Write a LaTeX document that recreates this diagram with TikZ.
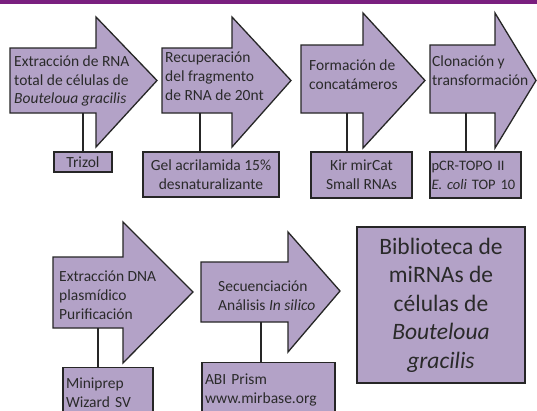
\documentclass[tikz,border=0pt]{standalone}
\usepackage{fontspec}
\setmainfont{Carlito}
\definecolor{lila}{HTML}{B3A2C7}
\definecolor{edge}{HTML}{262626}
\definecolor{topbar}{HTML}{7A1F7F}
\definecolor{txt}{HTML}{2A2A2A}
\tikzset{
  arrowshape/.style={fill=lila, draw=edge, line width=1.3pt, line join=miter},
  box/.style={fill=lila, draw=edge, line width=1.3pt, inner sep=3pt, font=\fontsize{15.5}{18.8}\selectfont, text=txt},
  lbl/.style={inner sep=0pt, align=left, font=\fontsize{15.5}{18.8}\selectfont, text=txt, anchor=west},
  stem/.style={draw=edge, line width=1.3pt},
}
\begin{document}
\begin{tikzpicture}[x=1pt,y=-1pt]
\useasboundingbox (0,0) rectangle (537,410);
\clip (0,0) rectangle (537,410);
\fill[white] (0,0) rectangle (537,410);
\fill[topbar] (0,0) rectangle (537,3.5);
% arrows row 1
\draw[arrowshape] (10,48) -- (96,48) -- (96,17) -- (157,80.5) -- (96,147) -- (96,113) -- (10,113) -- cycle;
\draw[arrowshape] (162,48) -- (232,48) -- (232,17) -- (291,80.5) -- (232,147) -- (232,113) -- (162,113) -- cycle;
\draw[arrowshape] (301,45) -- (363,45) -- (363,13) -- (425,80.5) -- (363,148) -- (363,113) -- (301,113) -- cycle;
\draw[arrowshape] (430,45) -- (495,45) -- (495,13) -- (536,80.5) -- (495,148) -- (495,113) -- (430,113) -- cycle;
% arrows row 2
\draw[arrowshape] (53,257) -- (123,257) -- (123,222) -- (193,292) -- (123,363) -- (123,328) -- (53,328) -- cycle;
\draw[arrowshape] (201,262) -- (288,262) -- (288,232) -- (340,291) -- (288,352) -- (288,322) -- (201,322) -- cycle;
% arrow labels
\node[lbl] (t1) at (14,81) {Extracción de RNA\\total de células de\\\textit{Bouteloua gracilis}};
\node[lbl] (t2) at (165,76) {Recuperación\\del fragmento\\de RNA de 20nt};
\node[lbl] (t3) at (309,75) {Formación de\\concatámeros};
\node[lbl] (t4) at (432,71) {Clonación y\\transformación};
\node[lbl] (t5) at (59,295) {Extracción DNA\\plasmídico\\Purificación};
\node[lbl] (t6) at (218,296) {Secuenciación\\Análisis \textit{In silico}};
% stem tops
\coordinate (s1) at (83,113);
\coordinate (s2) at (200,113);
\coordinate (s3) at (347,113);
\coordinate (s4) at (466,113);
\coordinate (s5) at (98,328);
\coordinate (s6) at (261,322);
% boxes
\node[box, minimum width=58pt, minimum height=20pt] (b1) at (83,162) {Trizol};
\node[box, minimum width=136pt, minimum height=45pt, align=center] (b2) at (211,174.5) {Gel acrilamida 15\%\\desnaturalizante};
\node[box, minimum width=101pt, minimum height=46pt, align=center] (b3) at (361.5,175) {Kir mirCat\\Small RNAs};
\node[box, minimum width=91pt, minimum height=46pt, text width=88pt, inner sep=1.5pt, align=left, font=\fontsize{14.5}{18.8}\selectfont] (b4) at (475.5,175) {pCR-TOPO II\\\textit{E. coli} TOP 10};
\node[box, minimum width=90pt, minimum height=50pt, text width=84pt, align=left, anchor=north] (b5) at (108,367) {Miniprep\\Wizard SV};
\node[box, minimum width=133pt, minimum height=54pt, text width=127pt, align=left, anchor=north] (b6) at (268.5,362) {ABI Prism\\www.mirbase.org};
\node[box, minimum width=168pt, minimum height=156pt, align=center, font=\fontsize{23.5}{28.5}\selectfont] (b7) at (441,305) {Biblioteca de\\miRNAs de\\células de\\\textit{Bouteloua}\\\textit{gracilis}};
% stems
\draw[stem] (s1) -- (s1 |- b1.north);
\draw[stem] (s2) -- (s2 |- b2.north);
\draw[stem] (s3) -- (s3 |- b3.north);
\draw[stem] (s4) -- (s4 |- b4.north);
\draw[stem] (s5) -- (s5 |- b5.north);
\draw[stem] (s6) -- (s6 |- b6.north);
\end{tikzpicture}
\end{document}
